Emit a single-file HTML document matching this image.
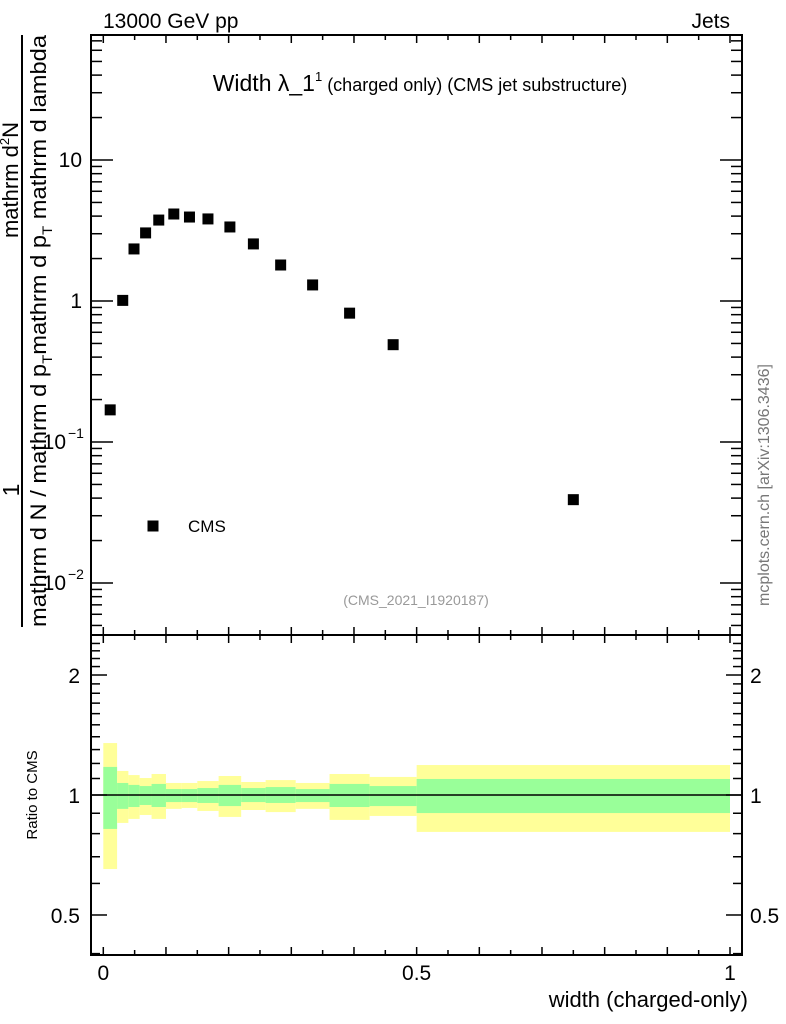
<!DOCTYPE html>
<html><head><meta charset="utf-8"><style>
body{margin:0;background:#fff;}
svg{display:block;font-family:"Liberation Sans",sans-serif;}
</style></head><body>
<svg id="c" width="786" height="1024" viewBox="0 0 786 1024">
</svg>
<script>
const binEdges=[0,0.022,0.04,0.058,0.077,0.1,0.125,0.15,0.184,0.22,0.259,0.307,0.361,0.425,0.5,1.0];
const cmsValues=[0.169,1.01,2.34,3.04,3.75,4.14,3.94,3.82,3.35,2.54,1.80,1.30,0.82,0.49,0.039];
const yellowUp=[1.350,1.149,1.122,1.103,1.129,1.072,1.072,1.084,1.116,1.078,1.090,1.072,1.129,1.110,1.189];
const yellowDn=[0.652,0.851,0.871,0.891,0.871,0.923,0.928,0.912,0.881,0.917,0.906,0.923,0.866,0.886,0.808];
const greenUp=[1.176,1.072,1.060,1.053,1.066,1.035,1.035,1.041,1.060,1.041,1.047,1.035,1.066,1.053,1.097];
const greenDn=[0.822,0.923,0.933,0.944,0.933,0.960,0.960,0.955,0.938,0.960,0.955,0.960,0.933,0.938,0.901];
const xTickLabels=["0","0.5","1"];
const xTickVals=[0,0.5,1];
const mainTickVals=[10,1,0.1,0.01];
const ratioTickVals=[2,1,0.5];
const ratioTickLabels=["2","1","0.5"];

const NS="http://www.w3.org/2000/svg";
const svg=document.getElementById('c');
const L=91,R=742,T=35,M=635,B=955;
const X=v=>103.3+626.7*v;
const Y=v=>301-141*Math.log10(v);
const YR=v=>795-398.6*Math.log10(v);
function mk(tag,attrs,parent){const e=document.createElementNS(NS,tag);for(const k in attrs)e.setAttribute(k,attrs[k]);(parent||svg).appendChild(e);return e;}
function txt(s,attrs){const e=mk('text',attrs);e.textContent=s;return e;}

const gBand=mk('g',{});


for(let i=0;i<cmsValues.length;i++){
  const x0=X(binEdges[i]),x1=X(binEdges[i+1]);
  const y=mk('rect',{x:x0,y:YR(yellowUp[i]),width:x1-x0,height:YR(yellowDn[i])-YR(yellowUp[i]),fill:'#ffff99'},gBand);
  
  
  const g=mk('rect',{x:x0,y:YR(greenUp[i]),width:x1-x0,height:YR(greenDn[i])-YR(greenUp[i]),fill:'#99ff99'},gBand);
  
  
}
const one=mk('line',{x1:L,x2:R,y1:YR(1),y2:YR(1),stroke:'#000','stroke-width':1.5});



const f1=mk('rect',{x:L,y:T,width:R-L,height:M-T,fill:'none',stroke:'#000','stroke-width':2});


const f2=mk('rect',{x:L,y:M,width:R-L,height:B-M,fill:'none',stroke:'#000','stroke-width':2});



const gt=mk('g',{stroke:'#000','stroke-width':1.5});


for(let k=0;k<=20;k++){
  const v=k*0.05,x=X(v),len=(k%2===0)?8:5;
  [[T,1],[M,-1],[M,1],[B,-1]].forEach(([y0,d])=>mk('line',{x1:x,x2:x,y1:y0,y2:y0+d*len},gt));
}
for(let dec=-3;dec<=1;dec++){
  for(let m=1;m<10;m++){
    const v=m*Math.pow(10,dec),y=Y(v);
    if(y<T||y>M)continue;
    const len=m===1?22:11;
    mk('line',{x1:L,x2:L+len,y1:y,y2:y},gt);
    mk('line',{x1:R,x2:R-len,y1:y,y2:y},gt);
  }
}
for(let v=0.4;v<=2.5;v+=0.1){
  const y=YR(v);if(y<M||y>B)continue;
  const major=Math.abs(v-0.5)<1e-6||Math.abs(v-1)<1e-6||Math.abs(v-2)<1e-6;
  const len=major?16:9;
  mk('line',{x1:L,x2:L+len,y1:y,y2:y},gt);
  mk('line',{x1:R,x2:R-len,y1:y,y2:y},gt);
}

const gp=mk('g',{});


for(let i=0;i<cmsValues.length;i++){
  const cx=X((binEdges[i]+binEdges[i+1])/2),cy=Y(cmsValues[i]);
  const r=mk('rect',{x:cx-5.5,y:cy-5.5,width:11,height:11,fill:'#000'},gp);
  
  
}

xTickVals.forEach((v,i)=>{const t=txt(xTickLabels[i],{x:X(v),y:980,'font-size':21,'text-anchor':'middle'});

});
mainTickVals.forEach(v=>{
  const e=Math.round(Math.log10(v));
  let t;
  if(e>=0){t=txt(String(v),{x:82,y:Y(v)+7,'font-size':21,'text-anchor':'end'});}
  else{t=mk('text',{x:66,y:Y(v)+7,'font-size':21,'text-anchor':'end'});t.textContent='10';
    const s=txt('−'+(-e),{x:68,y:Y(v)-4,'font-size':14});
    
    }
  
  
});
ratioTickVals.forEach((v,i)=>{
  const a=txt(ratioTickLabels[i],{x:80,y:YR(v)+8,'font-size':21,'text-anchor':'end'});
  
  
  const b=txt(ratioTickLabels[i],{x:750,y:YR(v)+8,'font-size':21});
  
  
});

let t;
t=txt('13000 GeV pp',{x:103,y:28,'font-size':21});

t=txt('Jets',{x:730,y:28,'font-size':21,'text-anchor':'end'});

t=mk('text',{x:420,y:91,'font-size':23,'text-anchor':'middle'});
t.innerHTML='Width λ_1<tspan font-size="13" dy="-10">1</tspan><tspan font-size="18" dy="10"> (charged only) (CMS jet substructure)</tspan>';

t=txt('(CMS_2021_I1920187)',{x:416,y:605,'font-size':14,fill:'#999','text-anchor':'middle'});

const lm=mk('rect',{x:147.5,y:520.5,width:11,height:11,fill:'#000'});

t=txt('CMS',{x:188,y:532,'font-size':17});

t=txt('mcplots.cern.ch [arXiv:1306.3436]',{x:0,y:0,'font-size':16,fill:'#777','text-anchor':'middle',transform:'translate(769,485) rotate(-90)'});

t=txt('Ratio to CMS',{x:0,y:0,'font-size':15,'text-anchor':'middle',transform:'translate(37,795) rotate(-90)'});

t=txt('width (charged-only)',{x:748,y:1007,'font-size':22,'text-anchor':'end'});

const yl=mk('line',{x1:22,x2:22,y1:35,y2:627,stroke:'#000','stroke-width':2});

t=mk('text',{x:0,y:0,'font-size':22,'text-anchor':'middle',transform:'translate(18,180) rotate(-90)'});
t.innerHTML='mathrm d<tspan font-size="13" dy="-9">2</tspan><tspan dy="9">N</tspan>';

t=txt('1',{x:0,y:0,'font-size':23,'text-anchor':'middle',transform:'translate(19,490) rotate(-90)'});

t=mk('text',{x:0,y:0,'font-size':22,transform:'translate(46,627) rotate(-90)',textLength:592,lengthAdjust:'spacingAndGlyphs'});
t.innerHTML='mathrm d N / mathrm d p<tspan font-size="14" dy="6">T</tspan><tspan dy="-6">mathrm d p</tspan><tspan font-size="14" dy="6">T</tspan><tspan dy="-6"> mathrm d lambda</tspan>';

</script>
</body></html>
